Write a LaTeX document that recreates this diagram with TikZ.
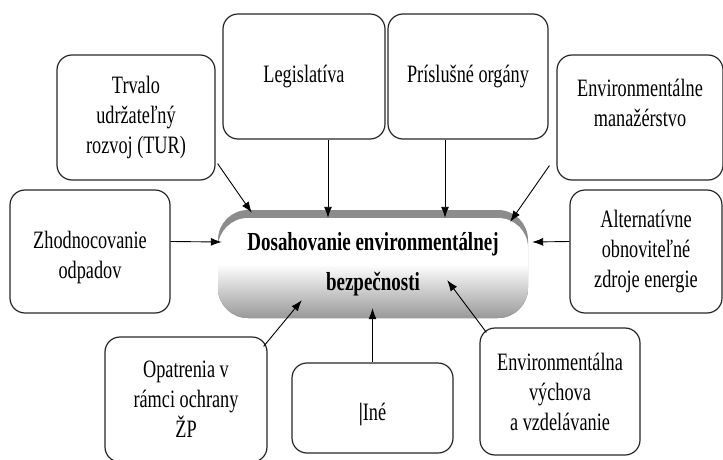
\documentclass[tikz,border=0pt]{standalone}
\usepackage{fontspec}
\setmainfont{Liberation Serif}[FakeStretch=0.73]
\usetikzlibrary{calc,arrows.meta}
\tikzset{
	box/.style={draw=black!85, line width=1.2pt, rounded corners=15pt, align=center, inner sep=0pt, font=\fontsize{25}{30}\selectfont},
	cenbox/.style={rounded corners=30pt, fill=gray!90, minimum width=310pt, minimum height=108pt, align=center, inner sep=0pt,
		font=\bfseries\fontsize{26}{40}\selectfont,
		path picture={\fill[top color=white, bottom color=gray!80, middle color=white, rounded corners=30pt]
			([yshift=-8pt]path picture bounding box.north west) rectangle (path picture bounding box.south east);}},
	arr/.style={-{Latex[length=11pt,width=8pt]}, line width=0.9pt},
}

\begin{document}
\begin{tikzpicture}[x=1pt,y=-1pt]
			%%%%% START %%%%%
			\useasboundingbox (0,0) rectangle (723,460);
			
			\node[cenbox] (cen) at (373,264) {Dosahovanie environmentálnej\\bezpečnosti};
			
			\node[box, minimum width=158pt, minimum height=125pt] (tur) at (136,117.5) {Trvalo\\udržateľný\\rozvoj (TUR)};
			\node[box, minimum width=162pt, minimum height=125pt] (leg) at (304,76.5) {Legislatíva};
			\node[box, minimum width=160pt, minimum height=125pt] (org) at (468,76.5) {Príslušné orgány};
			\node[box, minimum width=166pt, minimum height=125pt] (man) at (640,117.5) {Environmentálne\\manažérstvo\\\mbox{}};
			\node[box, minimum width=160pt, minimum height=123pt] (zho) at (90,251.5) {\mbox{}\\Zhodnocovanie\\odpadov};
			\node[box, minimum width=152pt, minimum height=123pt] (alt) at (646,251.5) {Alternatívne\\obnoviteľné\\zdroje energie};
			\node[box, minimum width=162pt, minimum height=125pt] (opa) at (186,399.5) {Opatrenia v\\rámci ochrany\\ŽP};
			\node[box, minimum width=161pt, minimum height=90pt] (ine) at (372.5,408) {\mbox{}\\\textbf{|}Iné};
			\node[box, minimum width=160pt, minimum height=127pt] (vyc) at (560,391.5) {Environmentálna\\výchova\\a vzdelávanie};
			
			\coordinate (lt) at ($(leg.south)+(24,0)$);
			\coordinate (ot) at ($(org.south)+(-23,0)$);
			
			\draw[arr] ($(tur.south east)+(2,-17)$) -- ($(cen.north west)+(34,3)$);
			\draw[arr] (lt) -- ($(lt |- cen.north)+(0,8)$);
			\draw[arr] (ot) -- ($(ot |- cen.north)+(0,8)$);
			\draw[arr] ($(man.south west)+(-7,-15)$) -- ($(cen.north east)+(-18,12)$);
			\draw[arr] ($(zho.east)+(0,-10)$) -- ($(cen.west)+(4,-22)$);
			\draw[arr] ($(alt.west)+(0,-10)$) -- ($(cen.east)+(4,-22)$);
			\draw[arr] ($(opa.north east)+(-4,10)$) -- ($(cen.south west)+(84,-18)$);
			\draw[arr] (ine.north) -- ($(ine.north |- cen.south)+(0,-10)$);
			\draw[arr] ($(vyc.north west)+(7,5)$) -- ($(cen.south east)+(-81,-38)$);
			
			%%%%% END %%%%%
\end{tikzpicture}
\end{document}
